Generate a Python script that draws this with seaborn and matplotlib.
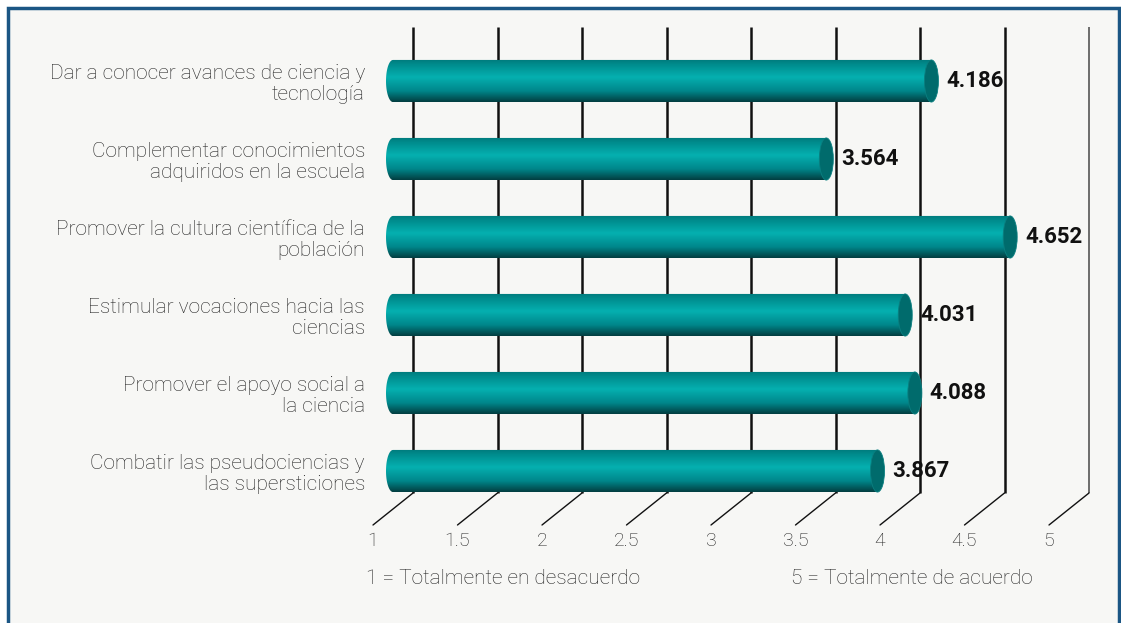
import matplotlib.pyplot as plt
import matplotlib.patches as mpatches
from matplotlib.colors import LinearSegmentedColormap
from matplotlib.path import Path
import numpy as np
import pandas as pd
import seaborn as sns

# chart data
categories = [
    'Dar a conocer avances de ciencia y\ntecnología',
    'Complementar conocimientos\nadquiridos en la escuela',
    'Promover la cultura científica de la\npoblación',
    'Estimular vocaciones hacia las\nciencias',
    'Promover el apoyo social a\nla ciencia',
    'Combatir las pseudociencias y\nlas supersticiones',
]
scores = [4.186, 3.564, 4.652, 4.031, 4.088, 3.867]
scale_ticks = [1, 1.5, 2, 2.5, 3, 3.5, 4, 4.5, 5]
scale_min = 1
note_low = '1 = Totalmente en desacuerdo'
note_high = '5 = Totalmente de acuerdo'

# layout (pixels)
W, H = 1121, 623
PX_X, PX_Y = 169, 78          # pixels per scale unit / per category
DX, DY = 20 / PX_X, 16 / PX_Y  # half depth of the pseudo 3d box
EW = 7 / PX_X                 # half width of cylinder caps
BAR_H = 0.54

df = pd.DataFrame({'category': categories, 'score': scores})
df['offset'] = df['score'] - scale_min

sns.set_theme(style='white')
plt.rcParams['font.family'] = ['Roboto', 'DejaVu Sans']

fig = plt.figure(figsize=(W / 100, H / 100), dpi=100, facecolor='white')
fig.patches.append(mpatches.Rectangle(
    (8 / W, -0.05), (1119 - 8) / W, (H - 8) / H + 0.05, transform=fig.transFigure,
    facecolor='#f7f7f5', edgecolor='#1b5684', lw=2.5, zorder=-5))

ax = fig.add_axes([367 / W, 1 - 528 / H, (1115 - 367) / W, (528 - 20) / H])
ax.set_facecolor('none')
ax.set_zorder(2)

sns.barplot(data=df, x='offset', y='category', orient='h', width=BAR_H,
            color='#00a0a0', ax=ax, zorder=2)

cmap = LinearSegmentedColormap.from_list(
    'cyl', [(0, '#007a7c'), (0.12, '#008c8d'), (0.42, '#05b0b0'),
            (0.75, '#00868a'), (1, '#033f42')])
grad = np.linspace(0, 1, 64).reshape(-1, 1)

for i, p in enumerate(ax.patches):
    p.set_facecolor('none')
    p.set_edgecolor('none')
    u = p.get_width()
    yc = p.get_y() + p.get_height() / 2
    h = p.get_height() / 2
    th = np.linspace(np.pi / 2, 3 * np.pi / 2, 30)
    verts = list(zip(EW * np.cos(th), yc + h * np.sin(th)))
    verts += [(u, yc - h), (u, yc + h), (0, yc + h)]
    body = mpatches.PathPatch(Path(verts, closed=False), transform=ax.transData,
                              facecolor='none', edgecolor='none')
    ax.add_patch(body)
    im = ax.imshow(grad, cmap=cmap, extent=(-EW, u, yc + h, yc - h),
                   aspect='auto', interpolation='bilinear', zorder=3)
    im.set_clip_path(body)
    ax.add_patch(mpatches.Ellipse((u, yc), 2 * EW, 2 * h, facecolor='#006b6c',
                                  edgecolor='#0a7f80', lw=0.6, zorder=4))
    ax.text(u + 15 / PX_X, yc, f'{scores[i]:.3f}', ha='left', va='center',
            fontsize=16, fontweight='bold', color='#111111', zorder=5)

# back wall gridlines and floor diagonals
top_i = (27 - 81) / PX_Y
floor_i = (493 - 81) / PX_Y
for t in scale_ticks:
    u = t - scale_min
    col, lw = ('#555555', 1.2) if t == scale_ticks[-1] else ('#111111', 1.8)
    ax.plot([u + DX, u + DX], [top_i, floor_i], color=col, lw=lw, zorder=1,
            solid_capstyle='butt')
    ax.plot([u + DX, u - DX], [floor_i, floor_i + 2 * DY], color='#111111',
            lw=1.0, zorder=1, clip_on=False)

ax.set_xlim((367 - 393) / PX_X, (1115 - 393) / PX_X)
ax.set_ylim((528 - 81) / PX_Y, (20 - 81) / PX_Y)
ax.set_xticks([t - scale_min - DX for t in scale_ticks])
ax.set_xticklabels([f'{t:g}' for t in scale_ticks], fontsize=14,
                   fontweight='light', color='#222222')
ax.set_yticks(range(len(categories)))
ax.set_yticklabels(categories, fontsize=15, fontweight='light', color='#222222',
                   linespacing=1.12)
ax.tick_params(axis='x', length=0, pad=3)
ax.tick_params(axis='y', length=0, pad=1.5)
ax.set_xlabel('')
ax.set_ylabel('')
for s in ax.spines.values():
    s.set_visible(False)

fig.text(503 / W, 1 - 578 / H, note_low, ha='center', va='center', fontsize=15,
         fontweight='light', color='#222222')
fig.text(912 / W, 1 - 578 / H, note_high, ha='center', va='center', fontsize=15,
         fontweight='light', color='#222222')

fig.savefig('out.png', dpi=100, facecolor=fig.get_facecolor())
